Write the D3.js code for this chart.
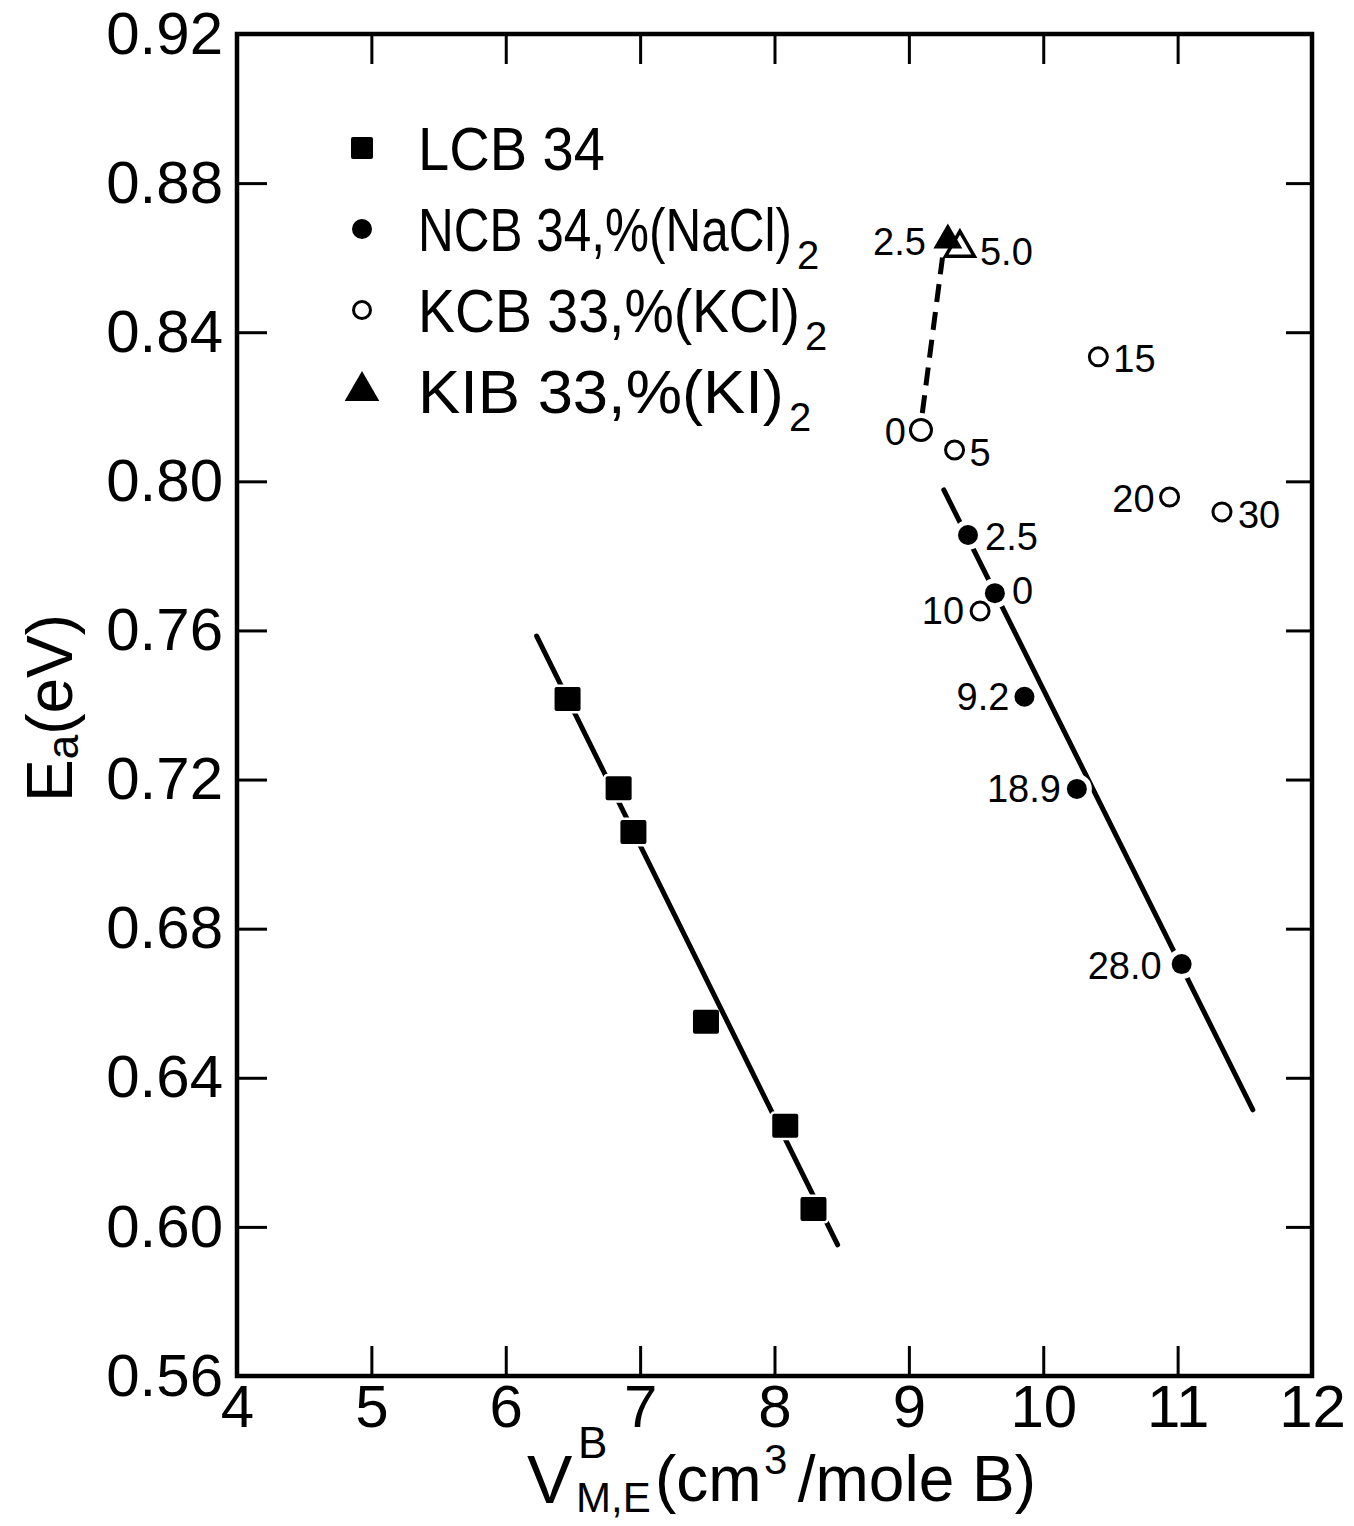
<!DOCTYPE html>
<html><head><meta charset="utf-8">
<script src="https://cdn.jsdelivr.net/npm/d3@7"></script>
<style>body{margin:0;background:#fff}svg{display:block}text{font-family:"Liberation Sans",Arial,sans-serif;fill:#000}</style>
</head><body>
<script>
// ---- data ----
const xTicks = [4,5,6,7,8,9,10,11,12];
const yTicks = [0.56,0.60,0.64,0.68,0.72,0.76,0.80,0.84,0.88,0.92];
const lcbX = [6.46,6.84,6.95,7.49,8.08,8.29];
const lcbY = [0.7416,0.7177,0.7059,0.655,0.6271,0.6048];
const lcbFitX = [6.23,8.47];
const lcbFitY = [0.7585,0.5952];
const ncbX = [9.44,9.64,9.86,10.25,11.03];
const ncbY = [0.7856,0.770,0.7422,0.7175,0.6705];
const ncbLabels = ["2.5","0","9.2","18.9","28.0"];
const ncbFitX = [9.26,11.56];
const ncbFitY = [0.7977,0.6314];
const kcbX = [9.09,9.34,10.41,10.94,11.33,9.53];
const kcbY = [0.8138,0.8084,0.8334,0.7958,0.7918,0.7652];
const kcbLabels = ["0","5","15","20","30","10"];
const kibX = [9.29,9.38];
const kibY = [0.8647,0.8626];
const kibLabels = ["2.5","5.0"];
const kibDashX = [9.10,9.25];
const kibDashY = [0.8183,0.860];
const legendLabels = ["LCB 34","NCB 34,%(NaCl)","KCB 33,%(KCl)","KIB 33,%(KI)"];
const legendSubs = ["","2","2","2"];

// ---- layout ----
const W=1354,H=1526;
const m={l:237,r:1312,t:34,b:1376};
const svg=d3.select("body").append("svg").attr("width",W).attr("height",H);
const x=d3.scaleLinear().domain([4,12]).range([m.l,m.r]);
const y=d3.scaleLinear().domain([0.56,0.92]).range([m.b,m.t]);

// frame
svg.append("rect").attr("x",m.l).attr("y",m.t).attr("width",m.r-m.l).attr("height",m.b-m.t)
  .attr("fill","none").attr("stroke","#000").attr("stroke-width",4.5);

// axes
const ax=d3.axisBottom(x).tickValues(xTicks).tickSize(-30).tickPadding(12).tickFormat(d3.format("d"));
const gx=svg.append("g").attr("transform",`translate(0,${m.b})`).call(ax);
gx.select(".domain").remove();
gx.selectAll(".tick line").attr("stroke-width",3).filter(d=>d===4||d===12).remove();
gx.selectAll(".tick text").attr("font-size",60).attr("dy","0.72em").attr("y",8);

const gxt=svg.append("g").attr("transform",`translate(0,${m.t})`).call(d3.axisTop(x).tickValues(xTicks.slice(1,-1)).tickSize(-30).tickFormat(""));
gxt.select(".domain").remove();
gxt.selectAll(".tick line").attr("stroke-width",3);

const ay=d3.axisLeft(y).tickValues(yTicks).tickSize(-30).tickPadding(14).tickFormat(d3.format(".2f"));
const gy=svg.append("g").attr("transform",`translate(${m.l},0)`).call(ay);
gy.select(".domain").remove();
gy.selectAll(".tick line").attr("stroke-width",3).filter(d=>d===0.56||d===0.92).remove();
gy.selectAll(".tick text").attr("font-size",60);

const gyr=svg.append("g").attr("transform",`translate(${m.r},0)`).call(d3.axisRight(y).tickValues(yTicks.slice(1,-1)).tickSize(-26).tickFormat(""));
gyr.select(".domain").remove();
gyr.selectAll(".tick line").attr("stroke-width",3);

// x axis title
svg.append("text").attr("x",527).attr("y",1503).attr("font-size",68).text("V");
svg.append("text").attr("x",578).attr("y",1458).attr("font-size",44).text("B");
svg.append("text").attr("x",576).attr("y",1512).attr("font-size",42).text("M,E");
svg.append("text").attr("x",655).attr("y",1501).attr("font-size",64).text("(cm");
svg.append("text").attr("x",764).attr("y",1474).attr("font-size",42).text("3");
svg.append("text").attr("x",1036).attr("y",1501).attr("font-size",64).attr("text-anchor","end").text("/mole B)");

// y axis title
const yt=svg.append("text").attr("transform","translate(72,802) rotate(-90)").attr("font-size",64);
yt.append("tspan").text("E");
yt.append("tspan").attr("font-size",44).attr("dy",6).text("a");
yt.append("tspan").attr("dy",-6).text("(eV)");

// fit lines
const lw=5;
svg.append("line").attr("x1",x(lcbFitX[0])).attr("y1",y(lcbFitY[0])).attr("x2",x(lcbFitX[1])).attr("y2",y(lcbFitY[1]))
  .attr("stroke","#000").attr("stroke-width",lw).attr("stroke-linecap","round");
svg.append("line").attr("x1",x(ncbFitX[0])).attr("y1",y(ncbFitY[0])).attr("x2",x(ncbFitX[1])).attr("y2",y(ncbFitY[1]))
  .attr("stroke","#000").attr("stroke-width",lw).attr("stroke-linecap","round");
svg.append("line").attr("x1",x(kibDashX[0])).attr("y1",y(kibDashY[0])).attr("x2",x(kibDashX[1])).attr("y2",y(kibDashY[1]))
  .attr("stroke","#000").attr("stroke-width",lw).attr("stroke-dasharray","18,10");

// markers
const halo=5;
svg.append("g").selectAll("rect").data(lcbX).join("rect")
  .attr("x",(d)=>x(d)-13).attr("y",(d,i)=>y(lcbY[i])-12).attr("width",26).attr("height",24).attr("rx",2)
  .attr("fill","#000").attr("stroke","#fff").attr("stroke-width",(d,i)=>i===3?0:halo).attr("paint-order","stroke");
svg.append("g").selectAll("circle").data(ncbX).join("circle")
  .attr("cx",d=>x(d)).attr("cy",(d,i)=>y(ncbY[i])).attr("r",10)
  .attr("fill","#000").attr("stroke","#fff").attr("stroke-width",halo*2).attr("paint-order","stroke");
svg.append("g").selectAll("circle").data(kcbX).join("circle")
  .attr("cx",d=>x(d)).attr("cy",(d,i)=>y(kcbY[i])).attr("r",(d,i)=>i===0?10.5:9)
  .attr("fill","#fff").attr("stroke","#000").attr("stroke-width",3);
const tri=d3.symbol().type(d3.symbolTriangle).size(360);
svg.append("path").attr("d",tri).attr("transform",`translate(${x(kibX[1])},${y(kibY[1])})`)
  .attr("fill","#fff").attr("stroke","#000").attr("stroke-width",3.5);
svg.append("path").attr("d",tri).attr("transform",`translate(${x(kibX[0])},${y(kibY[0])})`)
  .attr("fill","#000");

// point labels
const lf=38;
function lab(px,py,t,side,dx,dy){
  svg.append("text").attr("x",px+(side==="r"?dx:-dx)).attr("y",py+dy).attr("font-size",lf)
    .attr("text-anchor",side==="r"?"start":"end").attr("dominant-baseline","central").text(t);
}
const ncbSide=["r","r","l","l","l"], ncbOff=[[17,2],[17,-2],[15,0],[16,0],[20,2]];
ncbX.forEach((v,i)=>lab(x(v),y(ncbY[i]),ncbLabels[i],ncbSide[i],ncbOff[i][0],ncbOff[i][1]));
const kcbSide=["l","r","r","l","r","l"], kcbOff=[[15,2],[15,3],[15,2],[15,2],[16,3],[16,0]];
kcbX.forEach((v,i)=>lab(x(v),y(kcbY[i]),kcbLabels[i],kcbSide[i],kcbOff[i][0],kcbOff[i][1]));
const kibSide=["l","r"], kibOff=[[22,2],[20,4]];
kibX.forEach((v,i)=>lab(x(v),y(kibY[i]),kibLabels[i],kibSide[i],kibOff[i][0],kibOff[i][1]));

// legend
const lgX=362, lgY0=148, lgDy=81, lgTextX=418;
const lgWidths=[187,374,382,366];
legendLabels.forEach((t,i)=>{
  const cy=lgY0+i*lgDy;
  if(i===0) svg.append("rect").attr("x",lgX-11).attr("y",cy-11).attr("width",22).attr("height",22).attr("rx",2).attr("fill","#000");
  if(i===1) svg.append("circle").attr("cx",lgX).attr("cy",cy).attr("r",10).attr("fill","#000");
  if(i===2) svg.append("circle").attr("cx",lgX).attr("cy",cy).attr("r",8.5).attr("fill","#fff").attr("stroke","#000").attr("stroke-width",3);
  if(i===3) svg.append("path").attr("d",d3.symbol().type(d3.symbolTriangle).size(520)).attr("transform",`translate(${lgX},${cy})`).attr("fill","#000");
  const tx=svg.append("text").attr("x",0).attr("y",0).attr("font-size",61).text(t);
  const nat=tx.node().getComputedTextLength();
  tx.attr("transform",`translate(${lgTextX},${cy+22}) scale(${lgWidths[i]/nat},1)`);
  if(legendSubs[i]) svg.append("text").attr("x",lgTextX+lgWidths[i]+5).attr("y",cy+40).attr("font-size",40).text(legendSubs[i]);
});
</script>
</body></html>
